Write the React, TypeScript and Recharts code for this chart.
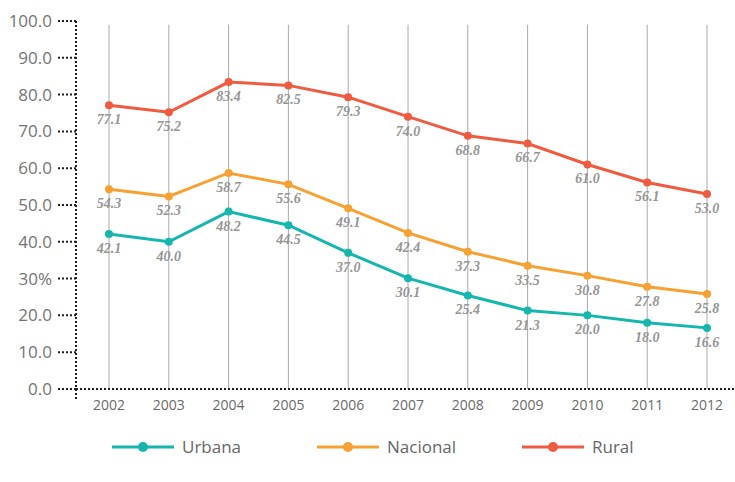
import {
  LineChart,
  Line,
  XAxis,
  YAxis,
  ReferenceLine,
  LabelList,
  Legend,
} from "recharts";

const years = ["2002", "2003", "2004", "2005", "2006", "2007", "2008", "2009", "2010", "2011", "2012"];
const urbana = [42.1, 40.0, 48.2, 44.5, 37.0, 30.1, 25.4, 21.3, 20.0, 18.0, 16.6];
const nacional = [54.3, 52.3, 58.7, 55.6, 49.1, 42.4, 37.3, 33.5, 30.8, 27.8, 25.8];
const rural = [77.1, 75.2, 83.4, 82.5, 79.3, 74.0, 68.8, 66.7, 61.0, 56.1, 53.0];
const yTicks = [0, 10, 20, 30, 40, 50, 60, 70, 80, 90, 100];
const yTickLabels = ["0.0", "10.0", "20.0", "30%", "40.0", "50.0", "60.0", "70.0", "80.0", "90.0", "100.0"];

const series = [
  { key: "urbana", name: "Urbana", color: "#14b6ae" },
  { key: "nacional", name: "Nacional", color: "#f8a133" },
  { key: "rural", name: "Rural", color: "#ef5b40" },
];

const data = years.map((year, i) => ({
  year,
  urbana: urbana[i],
  nacional: nacional[i],
  rural: rural[i],
}));

const dotted = { stroke: "#1e1e1e", strokeWidth: 2, strokeDasharray: "2 2" };

// value labels under each point: heavy grey italic
const labelStyle = {
  fill: "#959595",
  fontSize: 14,
  fontFamily: "'Liberation Serif', serif",
  fontStyle: "italic",
  fontWeight: "bold",
};

const renderLegend = () => (
  <div style={{ display: "flex", paddingLeft: 112 }}>
    {series.map((s) => (
      <div key={s.key} style={{ width: 205, display: "flex", alignItems: "center" }}>
        <svg width={62} height={12}>
          <line x1={0} y1={6} x2={62} y2={6} stroke={s.color} strokeWidth={3} />
          <circle cx={31} cy={6} r={5} fill={s.color} />
        </svg>
        <span
          style={{
            marginLeft: 8,
            fontFamily: "'Open Sans', sans-serif",
            fontSize: 17,
            color: "#666",
          }}
        >
          {s.name}
        </span>
      </div>
    ))}
  </div>
);

export default function App() {
  return (
    <div style={{ position: "absolute", left: 0, top: 0, background: "#fff" }}>
      <LineChart
        width={735}
        height={482}
        data={data}
        margin={{ top: 21, right: 0, bottom: 62, left: 0 }}
      >
        <XAxis
          dataKey="year"
          height={20}
          axisLine={false}
          tickLine={false}
          tickSize={0}
          tickMargin={0}
          padding={{ left: 33, right: 28 }}
          tick={{ fill: "#6a6a6a", fontSize: 14, fontFamily: "'Open Sans', sans-serif" }}
        />
        <YAxis
          width={76}
          domain={[-3, 100]}
          ticks={yTicks}
          interval={0}
          tickSize={18}
          tickMargin={6}
          axisLine={dotted}
          tickLine={dotted}
          tickFormatter={(v: number) => yTickLabels[yTicks.indexOf(v)]}
          tick={{ fill: "#747474", fontSize: 17, fontFamily: "'Open Sans', sans-serif" }}
        />
        {years.map((y) => (
          <ReferenceLine
            key={y}
            segment={[
              { x: y, y: 0 },
              { x: y, y: 99 },
            ]}
            stroke="#aaaaaa"
            strokeWidth={1}
          />
        ))}
        <ReferenceLine y={0} {...dotted} />
        <Legend verticalAlign="middle" layout="horizontal" content={renderLegend} wrapperStyle={{ top: 435, left: 0, width: 735 }} />
        {series.map((s) => (
          <Line
            key={s.key}
            dataKey={s.key}
            name={s.name}
            stroke={s.color}
            strokeWidth={3}
            dot={{ r: 4, fill: s.color, stroke: "none" }}
            activeDot={false}
            isAnimationActive={false}
          >
            <LabelList
              dataKey={s.key}
              position="bottom"
              offset={9}
              formatter={(v: number) => v.toFixed(1)}
              style={labelStyle}
            />
          </Line>
        ))}
      </LineChart>
    </div>
  );
}
